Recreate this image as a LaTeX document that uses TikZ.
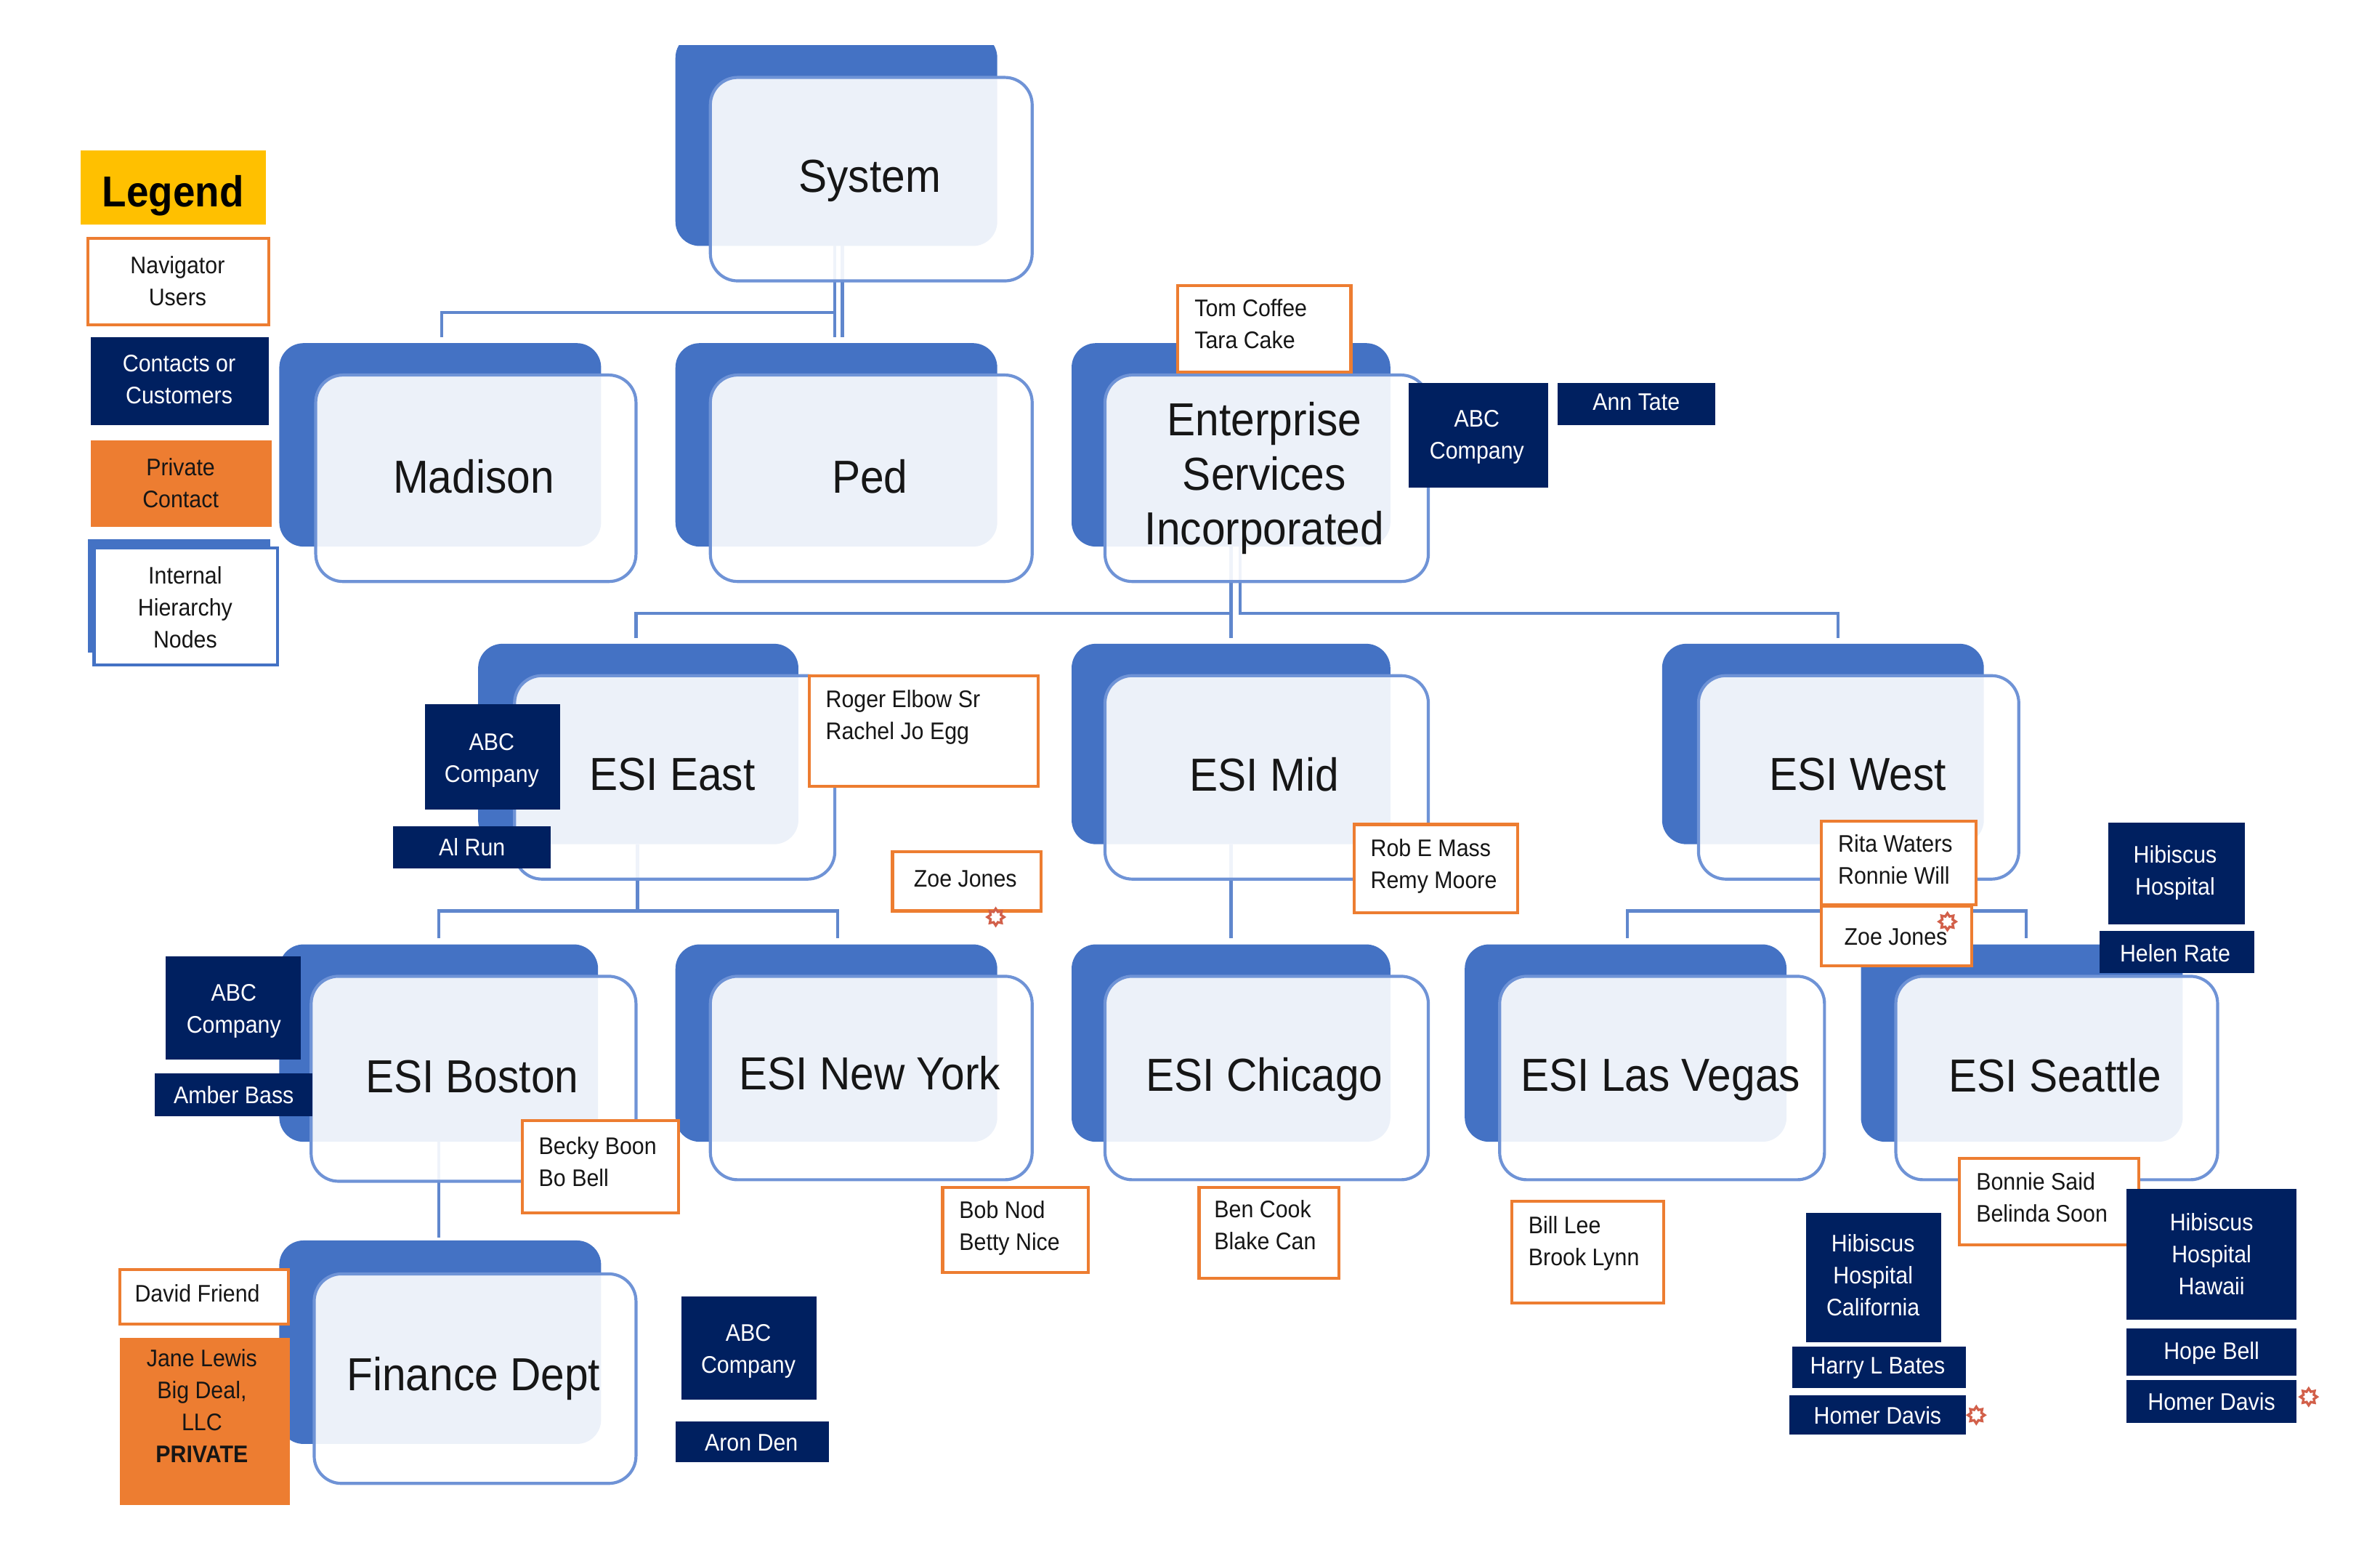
\documentclass[tikz,border=0pt]{standalone}
\usepackage{fontspec}
\setmainfont[FakeStretch=0.92]{Liberation Sans}
\usetikzlibrary{shapes.geometric}
\definecolor{hblue}{HTML}{4472C4}
\definecolor{hline}{HTML}{6F93D6}
\definecolor{hnavy}{HTML}{002060}
\definecolor{horange}{HTML}{ED7D31}
\definecolor{hgold}{HTML}{FFC000}
\definecolor{hburst}{HTML}{D2604A}
\definecolor{hink}{HTML}{161616}
\tikzset{
  anybox/.style={inner sep=0pt,outer sep=0pt},
  backbox/.style={anybox,fill=hblue,rounded corners=16pt},
  frontbox/.style={anybox,draw=hline,line width=2pt,fill=white,fill opacity=.9,rounded corners=18pt},
  userbox/.style={anybox,draw=horange,line width=2pt,fill=white},
  contactbox/.style={anybox,fill=hnavy},
  privatebox/.style={anybox,fill=horange},
  goldbox/.style={anybox,fill=hgold},
  legendback/.style={anybox,fill=hblue},
  legendfront/.style={anybox,draw=hblue,line width=2pt,fill=white},
  bigtext/.style={anybox,text=hink,align=center,font=\fontsize{30.5}{36}\selectfont},
  smalltext/.style={anybox,text=hink,align=center,font=\fontsize{15.8}{21}\selectfont},
  lefttext/.style={smalltext,align=left,anchor=west},
  whitetext/.style={smalltext,text=white},
  legendtext/.style={anybox,text=black,font=\fontsize{28.5}{30}\selectfont\bfseries},
  conn/.style={draw=hblue!85!white,line width=2pt,line join=miter},
  burst/.style={star,star points=8,star point ratio=1.5,draw=hburst,line width=1.6pt,fill=white,
    minimum size=11pt,inner sep=0pt,outer sep=0pt},
}
% \bxn{style}{name}{x0}{y0}{x1}{y1}
\newcommand{\bxn}[6]{%
  \pgfmathsetmacro{\bw}{#5-#3}\pgfmathsetmacro{\bh}{#6-#4}%
  \pgfmathsetmacro{\bcx}{(#3+#5)/2}\pgfmathsetmacro{\bcy}{(#4+#6)/2}%
  \node[#1,minimum width=\bw pt,minimum height=\bh pt] (#2) at (\bcx,\bcy) {};}
% \txn{style}{name}{x}{y}{text}
\newcommand{\txn}[5]{\node[#1] (#2) at (#3,#4) {#5};}
\begin{document}
\begin{tikzpicture}[x=1pt,y=-1pt]
\useasboundingbox (0,0) rectangle (1568,1017.1);
\fill[white] (0,0) rectangle (1568,1017.1);

% back panels
\begin{scope}
\clip (400,30) rectangle (700,200);
\bxn{backbox}{sysB}{445}{22}{657}{162}
\end{scope}
\bxn{backbox}{madB}{184}{226}{396}{360}
\bxn{backbox}{pedB}{445}{226}{657}{360}
\bxn{backbox}{entB}{706}{226}{916}{360}
\bxn{backbox}{eastB}{315}{424}{526}{556}
\bxn{backbox}{midB}{706}{424}{916}{556}
\bxn{backbox}{westB}{1095}{424}{1307}{556}
\bxn{backbox}{bosB}{184}{622}{394}{752}
\bxn{backbox}{nyB}{445}{622}{657}{752}
\bxn{backbox}{chiB}{706}{622}{916}{752}
\bxn{backbox}{lvB}{965}{622}{1177}{752}
\bxn{backbox}{seaB}{1226}{622}{1438}{752}
\bxn{backbox}{finB}{184}{817}{396}{951}

% connector ends and junctions
\coordinate (sysA) at (550,162); \coordinate (sysC) at (555,162);
\coordinate (madE) at (291,222); \coordinate (pedE) at (550,222); \coordinate (pedF) at (555,222);
\coordinate (entA) at (811,360); \coordinate (entC) at (817,360);
\coordinate (eastE) at (419,420); \coordinate (midE) at (811,420); \coordinate (westE) at (1211,420);
\coordinate (eastA) at (420,556); \coordinate (midA) at (811,556); \coordinate (westA) at (1225,556);
\coordinate (bosE) at (289,618); \coordinate (nyE) at (552,618); \coordinate (chiE) at (811,618);
\coordinate (lvE) at (1072,618); \coordinate (seaE) at (1335,618);
\coordinate (bosA) at (289,752); \coordinate (finE) at (289,815);

\draw[conn] (sysA) -- (sysA |- 0,206) -| (madE);
\draw[conn] (sysA) -- (pedE);
\draw[conn] (sysC) -- (pedF);
\draw[conn] (entA) -- (entA |- 0,404) -| (eastE);
\draw[conn] (entA) -- (midE);
\draw[conn] (entC) -- (entC |- 0,404) -| (westE);
\draw[conn] (eastA) -- (eastA |- 0,600) -| (bosE);
\draw[conn] (eastA) -- (eastA |- 0,600) -| (nyE);
\draw[conn] (midA) -- (chiE);
\draw[conn] (westA) -- (westA |- 0,600) -| (lvE);
\draw[conn] (westA) -- (westA |- 0,600) -| (seaE);
\draw[conn] (bosA) -- (finE);

% front panels
\bxn{frontbox}{sysF}{468}{51}{680}{185}
\bxn{frontbox}{madF}{208}{247}{419}{383}
\bxn{frontbox}{pedF2}{468}{247}{680}{383}
\bxn{frontbox}{entF}{728}{247}{941}{383}
\bxn{frontbox}{eastF}{339}{445}{550}{579}
\bxn{frontbox}{midF}{728}{445}{941}{579}
\bxn{frontbox}{westF}{1119}{445}{1330}{579}
\bxn{frontbox}{bosF}{205}{643}{419}{778}
\bxn{frontbox}{nyF}{468}{643}{680}{777}
\bxn{frontbox}{chiF}{728}{643}{941}{777}
\bxn{frontbox}{lvF}{988}{643}{1202}{777}
\bxn{frontbox}{seaF}{1249}{643}{1461}{777}
\bxn{frontbox}{finF}{207}{839}{419}{977}

\txn{bigtext}{sysT}{573}{119}{System}
\txn{bigtext}{madT}{312}{314}{Madison}
\txn{bigtext}{pedT}{573}{314}{Ped}
\txn{bigtext}{entT}{833}{315}{Enterprise\\Services\\Incorporated}
\txn{bigtext}{eastT}{443}{510}{ESI East}
\txn{bigtext}{midT}{833}{510}{ESI Mid}
\txn{bigtext}{westT}{1224}{510}{ESI West}
\txn{bigtext}{bosT}{311}{709}{ESI Boston}
\txn{bigtext}{nyT}{573}{707}{ESI New York}
\txn{bigtext}{chiT}{833}{711}{ESI Chicago}
\txn{bigtext}{lvT}{1094}{711}{ESI Las Vegas}
\txn{bigtext}{seaT}{1354}{708}{ESI Seattle}
\txn{bigtext}{finT}{312}{908}{Finance Dept}

% legend
\bxn{goldbox}{legG}{53}{99}{175}{148}
\txn{legendtext}{legT}{114}{129}{Legend}
\bxn{userbox}{legU}{58}{157}{177}{214}
\txn{smalltext}{legUT}{117}{185}{Navigator\\Users}
\bxn{contactbox}{legC}{60}{222}{177}{280}
\txn{whitetext}{legCT}{118}{250}{Contacts or\\Customers}
\bxn{privatebox}{legP}{60}{290}{179}{347}
\txn{smalltext}{legPT}{119}{318}{Private\\Contact}
\bxn{legendback}{legIB}{58}{355}{178}{430}
\bxn{legendfront}{legIF}{62}{361}{183}{438}
\txn{smalltext}{legIT}{122}{400}{Internal\\Hierarchy\\Nodes}

% annotations, upper
\bxn{userbox}{tom}{776}{188}{890}{245}
\txn{lefttext}{tomT}{787}{213.5}{Tom Coffee\\Tara Cake}
\bxn{contactbox}{abc1}{928}{252}{1020}{321}
\txn{whitetext}{abc1T}{973}{288}{ABC\\Company}
\bxn{contactbox}{ann}{1026}{252}{1130}{280}
\txn{whitetext}{annT}{1078}{265}{Ann Tate}

\bxn{userbox}{rog}{533}{445}{684}{518}
\txn{lefttext}{rogT}{544}{472.5}{Roger Elbow Sr\\Rachel Jo Egg}
\bxn{contactbox}{abc2}{280}{464}{369}{533}
\txn{whitetext}{abc2T}{324}{501}{ABC\\Company}
\bxn{contactbox}{alr}{259}{544}{363}{572}
\txn{whitetext}{alrT}{311}{558}{Al Run}
\bxn{userbox}{zoe1}{588}{561}{686}{600}
\txn{smalltext}{zoe1T}{636}{579}{Zoe Jones}
\node[burst] (zoe1S) at (656,604) {};

\bxn{userbox}{rob}{892}{543}{1000}{601}
\txn{lefttext}{robT}{903}{570.5}{Rob E Mass\\Remy Moore}
\bxn{userbox}{rit}{1200}{541}{1302}{596}
\txn{lefttext}{ritT}{1211}{566}{Rita Waters\\Ronnie Will}
\bxn{userbox}{zoe2}{1200}{597}{1299}{636}
\txn{smalltext}{zoe2T}{1249}{617}{Zoe Jones}
\node[burst] (zoe2S) at (1283,607) {};
\bxn{contactbox}{hib1}{1389}{542}{1479}{609}
\txn{whitetext}{hib1T}{1433}{575}{Hibiscus\\Hospital}
\bxn{contactbox}{hel}{1383}{613}{1485}{641}
\txn{whitetext}{helT}{1433}{628}{Helen Rate}

% annotations, lower
\bxn{contactbox}{abc3}{109}{630}{198}{698}
\txn{whitetext}{abc3T}{154}{666}{ABC\\Company}
\bxn{contactbox}{amb}{102}{707}{206}{735}
\txn{whitetext}{ambT}{154}{721}{Amber Bass}
\bxn{userbox}{bec}{344}{738}{447}{799}
\txn{lefttext}{becT}{355}{765}{Becky Boon\\Bo Bell}
\bxn{userbox}{bob}{621}{782}{717}{838}
\txn{lefttext}{bobT}{632}{809}{Bob Nod\\Betty Nice}
\bxn{userbox}{ben}{790}{782}{882}{842}
\txn{lefttext}{benT}{800}{807}{Ben Cook\\Blake Can}
\bxn{userbox}{bil}{996}{791}{1096}{858}
\txn{lefttext}{bilT}{1007}{819}{Bill Lee\\Brook Lynn}
\bxn{userbox}{bon}{1291}{763}{1409}{820}
\txn{lefttext}{bonT}{1302}{788.5}{Bonnie Said\\Belinda Soon}

\bxn{contactbox}{cal}{1190}{799}{1279}{884}
\txn{whitetext}{calT}{1234}{840}{Hibiscus\\Hospital\\California}
\bxn{contactbox}{har}{1181}{887}{1295}{914}
\txn{whitetext}{harT}{1237}{901}{Harry L Bates}
\bxn{contactbox}{hom1}{1179}{919}{1295}{945}
\txn{whitetext}{hom1T}{1237}{932}{Homer Davis}
\node[burst] (hom1S) at (1302,932) {};

\bxn{contactbox}{haw}{1401}{783}{1513}{869}
\txn{whitetext}{hawT}{1457}{826}{Hibiscus\\Hospital\\Hawaii}
\bxn{contactbox}{hop}{1401}{875}{1513}{906}
\txn{whitetext}{hopT}{1457}{891}{Hope Bell}
\bxn{contactbox}{hom2}{1401}{909}{1513}{937}
\txn{whitetext}{hom2T}{1457}{923}{Homer Davis}
\node[burst] (hom2S) at (1521,920) {};

\bxn{userbox}{dav}{79}{836}{190}{872}
\txn{smalltext}{davT}{130}{852}{David Friend}
\bxn{privatebox}{jan}{79}{881}{191}{991}
\txn{smalltext}{janT}{133}{926}{Jane Lewis\\Big Deal,\\LLC\\\textbf{PRIVATE}}
\bxn{contactbox}{abc4}{449}{854}{538}{922}
\txn{whitetext}{abc4T}{493}{890}{ABC\\Company}
\bxn{contactbox}{aro}{445}{936}{546}{963}
\txn{whitetext}{aroT}{495}{950}{Aron Den}
\end{tikzpicture}
\end{document}
